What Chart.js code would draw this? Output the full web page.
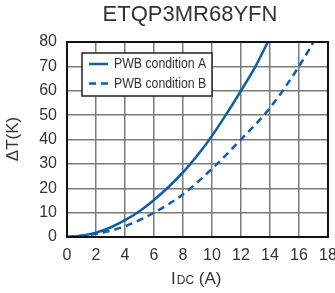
<!DOCTYPE html>
<html>
<head>
<meta charset="utf-8">
<script src="https://cdn.jsdelivr.net/npm/chart.js@4"></script>
<style>
  html, body { margin: 0; padding: 0; background: #fff; }
  #wrap { width: 335px; height: 293px; position: relative; }
</style>
</head>
<body>
<div id="wrap"><canvas id="c"></canvas></div>
<script>
// values
const ampsA = [0, 1, 2, 3, 4, 5, 6, 7, 8, 9, 10, 11, 12, 13, 13.85];
const riseA = [0, 0.5, 1.8, 3.9, 6.9, 10.6, 15.2, 20.5, 26.5, 33.5, 41.5, 50.5, 60, 70, 80];
const ampsB = [0, 2, 4, 6, 8, 10, 12, 14, 16, 17];
const riseB = [0, 1.3, 4.4, 10, 17.5, 28, 40, 53, 70, 80];
const xTicks = [0, 2, 4, 6, 8, 10, 12, 14, 16, 18];
const yTicks = [0, 10, 20, 30, 40, 50, 60, 70, 80];
const seriesNames = ['PWB condition A', 'PWB condition B'];

const BLUE = '#0c5eab';
const TXT = '#333';
const FONT = '"Liberation Sans", Arial, sans-serif';

const pts = (xs, ys) => xs.map((x, i) => ({ x, y: ys[i] }));

const decor = {
  id: 'decor',
  afterDraw(chart) {
    const { ctx, chartArea: a } = chart;
    ctx.save();
    // plot frame
    ctx.strokeStyle = '#111';
    ctx.lineWidth = 2;
    ctx.strokeRect(a.left, a.top, a.right - a.left, a.bottom - a.top);

    // title
    ctx.fillStyle = TXT;
    ctx.font = '22px ' + FONT;
    ctx.textAlign = 'center';
    ctx.textBaseline = 'middle';
    ctx.fillText('ETQP3MR68YFN', 190, 15);

    // y title
    ctx.save();
    ctx.translate(13, 139);
    ctx.rotate(-Math.PI / 2);
    ctx.font = '17px ' + FONT;
    ctx.fillText('ΔT(K)', 0, 0);
    ctx.restore();

    // x title with small DC
    ctx.textAlign = 'left';
    ctx.textBaseline = 'alphabetic';
    let x = 171;
    const y = 284;
    ctx.font = '17px ' + FONT;
    ctx.fillText('I', x, y); x += ctx.measureText('I').width + 1;
    ctx.font = '12px ' + FONT;
    ctx.fillText('DC', x, y); x += ctx.measureText('DC').width;
    ctx.font = '17px ' + FONT;
    ctx.fillText(' (A)', x, y);

    // legend box
    const lx = 82, ly = 53, lw = 130, lh = 43;
    ctx.fillStyle = '#fff';
    ctx.fillRect(lx, ly, lw, lh);
    ctx.strokeStyle = '#222';
    ctx.lineWidth = 1.5;
    ctx.strokeRect(lx, ly, lw, lh);
    chart.data.datasets.forEach((ds, i) => {
      const ry = 64 + i * 19.5;
      ctx.strokeStyle = ds.borderColor;
      ctx.lineWidth = 2.5;
      ctx.setLineDash(ds.borderDash || []);
      ctx.beginPath();
      ctx.moveTo(89, ry);
      ctx.lineTo(108, ry);
      ctx.stroke();
      ctx.setLineDash([]);
      ctx.save();
      ctx.translate(114, ry);
      ctx.scale(0.82, 1);
      ctx.fillStyle = TXT;
      ctx.font = '15px ' + FONT;
      ctx.textBaseline = 'middle';
      ctx.fillText(ds.label, 0, 0);
      ctx.restore();
    });
    ctx.restore();
  }
};

new Chart(document.getElementById('c'), {
  type: 'line',
  data: {
    datasets: [
      { label: seriesNames[0], data: pts(ampsA, riseA), borderColor: BLUE, borderWidth: 2.5,
        pointRadius: 0, cubicInterpolationMode: 'monotone', fill: false },
      { label: seriesNames[1], data: pts(ampsB, riseB), borderColor: BLUE, borderWidth: 2.5,
        borderDash: [7, 5], pointRadius: 0, cubicInterpolationMode: 'monotone', fill: false },
    ],
  },
  options: {
    responsive: true,
    maintainAspectRatio: false,
    animation: false,
    layout: { padding: { top: 42, right: 7, left: 0, bottom: 0 } },
    plugins: { legend: { display: false }, tooltip: { enabled: false }, title: { display: false } },
    scales: {
      x: {
        type: 'linear', min: 0, max: 18,
        afterBuildTicks: s => { s.ticks = xTicks.map(v => ({ value: v })); },
        afterFit: s => { s.height = 56; s.paddingLeft = 0; s.paddingRight = 0; },
        grid: { color: '#7a7a7a', lineWidth: 1.5, drawTicks: false },
        border: { display: false },
        ticks: { color: TXT, font: { size: 16, family: FONT }, padding: 9, maxRotation: 0, autoSkip: false },
      },
      y: {
        min: 0, max: 80,
        afterBuildTicks: s => { s.ticks = yTicks.map(v => ({ value: v })); },
        afterFit: s => { s.width = 67; s.paddingTop = 0; s.paddingBottom = 0; },
        grid: { color: '#7a7a7a', lineWidth: 1.5, drawTicks: false },
        border: { display: false },
        ticks: { color: TXT, font: { size: 16, family: FONT }, padding: 10, autoSkip: false },
      },
    },
  },
  plugins: [decor],
});
</script>
</body>
</html>
